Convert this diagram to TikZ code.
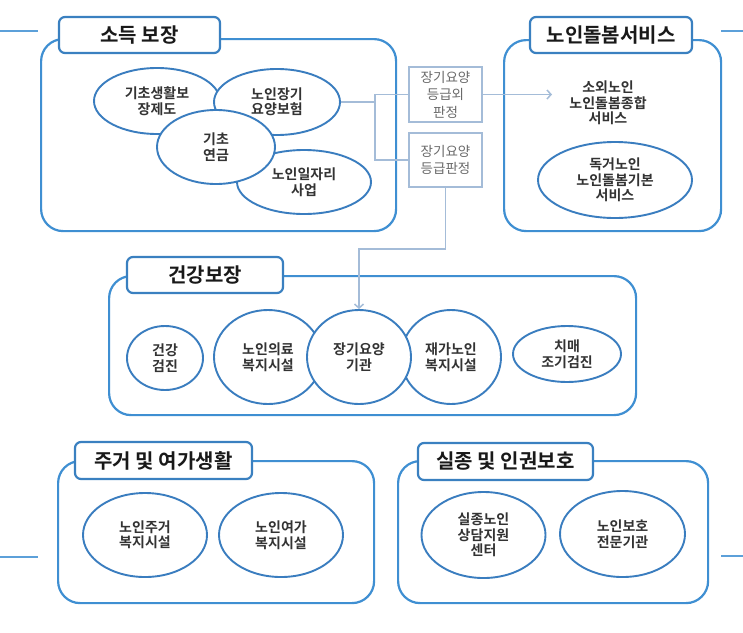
\documentclass[tikz,border=0pt]{standalone}
\usepackage{fontspec}
\setmainfont{Noto Sans CJK KR}[BoldFont={Noto Sans CJK KR Bold}]
\usetikzlibrary{shapes.geometric,arrows.meta}
\definecolor{boxblue}{HTML}{3F8FD2}
\definecolor{titleblue}{HTML}{3A80C0}
\definecolor{ellblue}{HTML}{3A7DBF}
\definecolor{connc}{HTML}{A4BCD8}
\definecolor{txt}{HTML}{333333}
\definecolor{stxt}{HTML}{6A6A6A}
\begin{document}
\begin{tikzpicture}[x=1pt,y=-1pt,
  outerbox/.style={draw=boxblue, line width=2.2pt, rounded corners=22pt, fill=white, inner sep=0pt, anchor=north west},
  titlebox/.style={draw=titleblue, line width=2.2pt, rounded corners=6pt, fill=white, inner sep=0pt, font=\bfseries\fontsize{20}{23}\selectfont, text=black!90},
  ell/.style={ellipse, draw=ellblue, line width=1.9pt, fill=white, inner sep=0pt, align=center, font=\bfseries\fontsize{14}{15.5}\selectfont, text=txt},
  plaintext/.style={align=center, inner sep=0pt, font=\bfseries\fontsize{14}{15.5}\selectfont, text=txt},
  judg/.style={draw=connc, line width=1.6pt, fill=white, inner sep=0pt, align=center, font=\fontsize{13.5}{17.5}\selectfont, text=stxt},
  conn/.style={draw=connc, line width=1.5pt},
  deco/.style={draw=boxblue!85, line width=1.2pt},
  tip/.style={-{Straight Barb[length=4pt,width=9pt]}}
]
\useasboundingbox (0,0) rectangle (743,632);

% decorative side lines
\coordinate (d1a) at (0,31); \coordinate (d1b) at (38,31);
\coordinate (d2a) at (721,31); \coordinate (d2b) at (743,31);
\coordinate (d3a) at (0,557); \coordinate (d3b) at (38,557);
\coordinate (d4a) at (721,556); \coordinate (d4b) at (743,556);
\draw[deco] (d1a) -- (d1b);
\draw[deco] (d2a) -- (d2b);
\draw[deco] (d3a) -- (d3b);
\draw[deco] (d4a) -- (d4b);

% outer boxes
\node[outerbox, minimum width=355pt, minimum height=192pt] (inc) at (40,38) {};
\node[outerbox, minimum width=217pt, minimum height=191pt] (care) at (503,39) {};
\node[outerbox, minimum width=527pt, minimum height=139pt] (hlth) at (108,275) {};
\node[outerbox, minimum width=316pt, minimum height=142pt] (hous) at (57,460) {};
\node[outerbox, minimum width=310pt, minimum height=142pt] (prot) at (397,460) {};

% titles
\node[titlebox, minimum width=161pt, minimum height=36pt] (tinc) at (139.5,35) {소득 보장};
\node[titlebox, minimum width=162pt, minimum height=36pt] (tcare) at (611,35) {노인돌봄서비스};
\node[titlebox, minimum width=156pt, minimum height=36pt] (thlth) at (205,275) {건강보장};
\node[titlebox, minimum width=177pt, minimum height=37pt] (thous) at (163.5,460.5) {주거 및 여가생활};
\node[titlebox, minimum width=175pt, minimum height=37pt] (tprot) at (505.5,461.5) {실종 및 인권보호};

% income ellipses
\node[ell, minimum width=126pt, minimum height=66pt] (e1) at (157,101) {기초생활보\\장제도};
\node[ell, minimum width=126pt, minimum height=66pt] (e2) at (277,102) {노인장기\\요양보험};
\node[ell, minimum width=134pt, minimum height=64pt] (e4) at (304,182) {노인일자리\\사업};
\node[ell, minimum width=118pt, minimum height=74pt] (e3) at (216,147) {기초\\연금};

% care service
\node[plaintext] (c1) at (608,103) {소외노인\\노인돌봄종합\\서비스};
\node[ell, minimum width=154pt, minimum height=76pt] (c2) at (615,180) {독거노인\\노인돌봄기본\\서비스};

% judgement boxes
\node[judg, minimum width=73pt, minimum height=55pt] (jA) at (445.5,94.5) {장기요양\\등급외\\판정};
\node[judg, minimum width=73pt, minimum height=54pt] (jB) at (445.5,160) {장기요양\\등급판정};

% health ellipses
\node[ell, minimum width=76pt, minimum height=64pt] (h1) at (165,358) {건강\\검진};
\node[ell, minimum width=108pt, minimum height=94pt] (h2) at (268,357) {노인의료\\복지시설};
\node[ell, minimum width=100pt, minimum height=94pt] (h4) at (451,357) {재가노인\\복지시설};
\node[ell, minimum width=104pt, minimum height=94pt] (h3) at (359,357) {장기요양\\기관};
\node[ell, minimum width=108pt, minimum height=56pt] (h5) at (567,354) {치매\\조기검진};

% housing / leisure
\node[ell, minimum width=124pt, minimum height=84pt] (b1) at (145,535) {노인주거\\복지시설};
\node[ell, minimum width=124pt, minimum height=84pt] (b2) at (281,535) {노인여가\\복지시설};

% missing / rights
\node[ell, minimum width=124pt, minimum height=86pt] (s1) at (483.5,535) {실종노인\\상담지원\\센터};
\node[ell, minimum width=125pt, minimum height=86pt] (s2) at (622.5,534) {노인보호\\전문기관};

% connectors
\coordinate (jn) at (375,102);
\coordinate (arr) at (552,94.5);
\draw[conn] (e2.east) -- (jn);
\draw[conn] (jA.west) -| (jn) |- (jB.west);
\draw[conn, tip] (jA.east) -- (arr);
\draw[conn, tip] (jB.south) -- ++(0,61) -| (h3.north);
\end{tikzpicture}
\end{document}
